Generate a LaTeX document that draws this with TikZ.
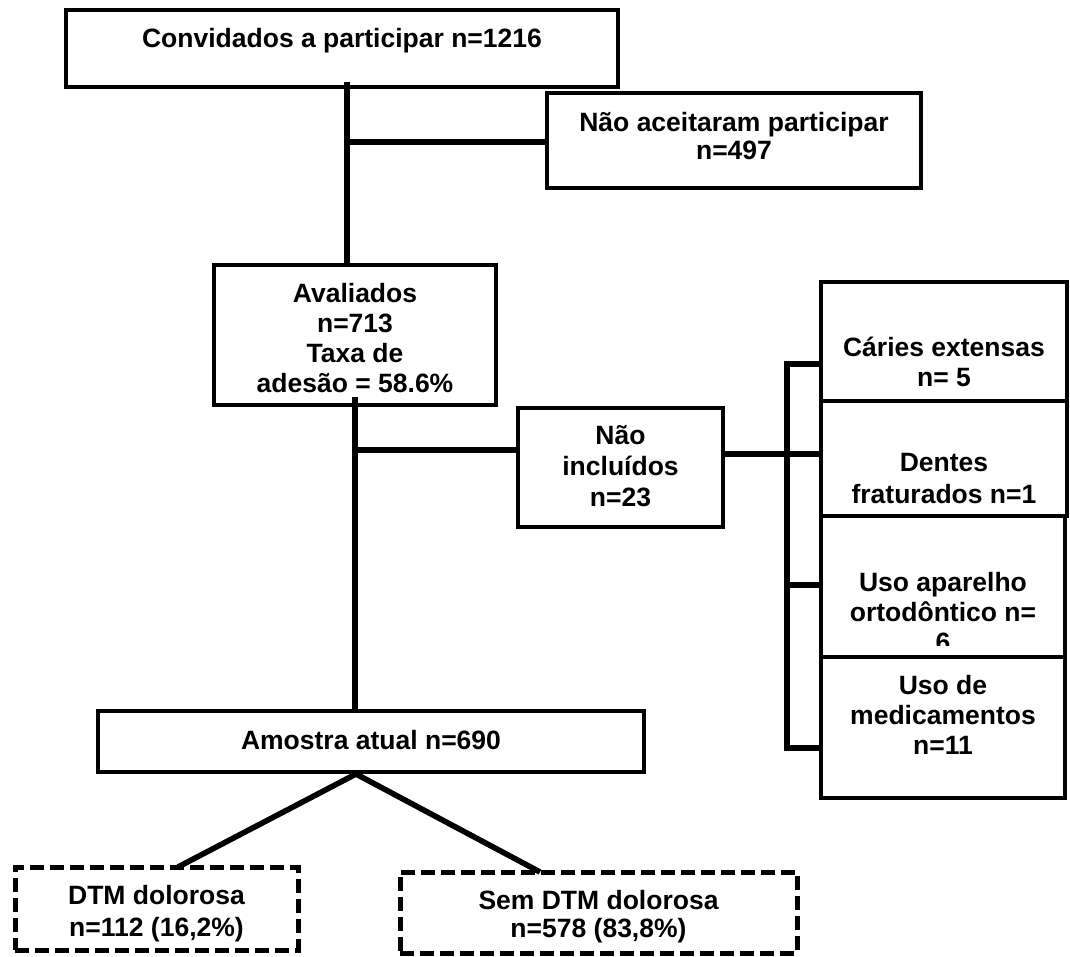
\documentclass[tikz,border=0pt]{standalone}
\usepackage{fontspec}
\setmainfont{Liberation Sans}
\begin{document}
\begin{tikzpicture}[x=1pt,y=-1pt,
  box/.style={draw, line width=4.2pt, rectangle, inner sep=0pt, fill=white},
  dbox/.style={draw, line width=5pt, dash pattern=on 14pt off 6pt, rectangle, inner sep=0pt, fill=white},
  lbl/.style={anchor=north, align=center, inner sep=0pt, font=\fontsize{26.5}{30}\selectfont\bfseries},
  conn/.style={line width=5.6pt}]
\useasboundingbox (0,0) rectangle (1070,956);
\fill[white] (0,0) rectangle (1070,956);

% boxes
\node[box, minimum width=552pt, minimum height=77pt] (conv) at (342,48.5) {};
\node[box, minimum width=374pt, minimum height=95pt] (naoacc) at (734,140.5) {};
\node[box, minimum width=282pt, minimum height=140pt] (aval) at (355,335) {};
\node[box, minimum width=205pt, minimum height=119pt] (naoinc) at (620.5,467.5) {};
\node[box, minimum width=246pt, minimum height=119pt] (caries) at (944,341.5) {};
\node[box, minimum width=246pt, minimum height=115pt] (dentes) at (944,458.5) {};
\node[box, minimum width=244pt, minimum height=141pt] (aparelho) at (943,586.5) {};
\node[box, minimum width=244pt, minimum height=141pt] (medic) at (943,727.5) {};
\node[box, minimum width=546pt, minimum height=61pt] (amostra) at (371,741.5) {};
\node[dbox, minimum width=283pt, minimum height=83pt] (dtm) at (156.5,908.5) {};
\node[dbox, minimum width=397pt, minimum height=81pt] (semdtm) at (598.5,912.5) {};

% texts
\node[lbl] (convT) at (342,28) {Convidados a participar n=1216};
\node[lbl, font=\fontsize{26.5}{28}\selectfont\bfseries] (naoaccT) at (734,112) {Não aceitaram participar\\n=497};
\node[lbl] (avalT) at (355,283) {Avaliados\\n=713\\Taxa de\\adesão = 58.6\%};
\node[lbl, font=\fontsize{26.5}{31}\selectfont\bfseries] (naoincT) at (620.5,425) {Não\\incluídos\\n=23};
\node[lbl] (cariesT) at (944,337) {Cáries extensas\\n= 5};
\node[lbl, font=\fontsize{26.5}{32}\selectfont\bfseries] (dentesT) at (944,453) {Dentes\\fraturados n=1};
\begin{scope}
  \clip (823,518) rectangle (1063,645);
  \node[lbl] (aparelhoT) at (943,572) {Uso aparelho\\ortodôntico n=\\6};
\end{scope}
\node[lbl] (medicT) at (943,675) {Uso de\\medicamentos\\n=11};
\node[lbl] (amostraT) at (371,730) {Amostra atual n=690};
\node[lbl, font=\fontsize{26.5}{32}\selectfont\bfseries] (dtmT) at (156.5,885) {DTM dolorosa\\n=112 (16,2\%)};
\node[lbl, font=\fontsize{26.5}{28}\selectfont\bfseries] (semdtmT) at (598.5,890) {Sem DTM dolorosa\\n=578 (83,8\%)};

% connectors
\coordinate (c1) at (347,82);
\coordinate (j1) at (347,142);
\draw[conn] (c1) -- (c1 |- aval.north);
\draw[conn] (j1) -- (j1 -| naoacc.west);

\coordinate (c2) at (355,397);
\coordinate (j2) at (355,450);
\draw[conn] (c2) -- (c2 |- amostra.north);
\draw[conn] (j2) -- (j2 -| naoinc.west);

\coordinate (j3) at (787,454);
\draw[conn] (j3 -| naoinc.east) -- (j3 -| caries.west);

\coordinate (bt) at (787,364);
\coordinate (bm) at (787,585);
\coordinate (bb) at (787,748);
\draw[line width=6pt] (bt -| caries.west) -- (bt) -- (bb) -- (bb -| medic.west);
\draw[line width=6pt] (bm) -- (bm -| aparelho.west);

\coordinate (a0) at (356,774);
\coordinate (d1) at (178,867);
\coordinate (d2) at (540,872);
\draw[conn] (a0) -- (d1);
\draw[conn] (a0) -- (d2);
\end{tikzpicture}
\end{document}
